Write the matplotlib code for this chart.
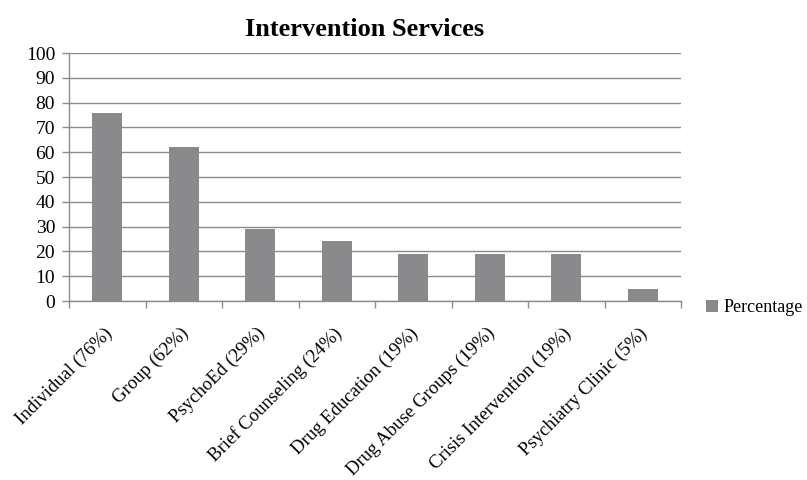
import numpy as np
import matplotlib.pyplot as plt

categories = ["Individual (76%)", "Group (62%)", "PsychoEd (29%)",
              "Brief Counseling (24%)", "Drug Education (19%)",
              "Drug Abuse Groups (19%)", "Crisis Intervention (19%)",
              "Psychiatry Clinic (5%)"]
values = [76, 62, 29, 24, 19, 19, 19, 5]

plt.rcParams['font.family'] = ['Liberation Serif', 'DejaVu Serif']

fig = plt.figure(figsize=(8.07, 4.8), dpi=100)
ax = fig.add_axes([69/807, 1 - 301/480, (681 - 69)/807, (301 - 53)/480])

x = np.arange(len(categories))
bars = ax.bar(x, values, width=0.39, color="#8a8a8c", label="Percentage", zorder=3)

ax.set_xlim(-0.5, len(categories) - 0.5)
ax.set_ylim(0, 100)
ax.set_yticks(np.arange(0, 101, 10))
ax.yaxis.grid(True, color="#8c8c8c", linewidth=1.0, zorder=0)
ax.tick_params(axis='y', labelsize=14, length=5, color="#8c8c8c", width=1, pad=5)

# ticks sit on category boundaries, labels at category centres
ax.set_xticks(np.arange(-0.5, len(categories)), minor=False)
ax.set_xticklabels([])
ax.set_xticks(x - 0.05, minor=True)
ax.set_xticklabels(categories, minor=True, rotation=45, ha='right',
                   rotation_mode='anchor', fontsize=13.5)
ax.tick_params(axis='x', which='major', length=5, color="#8c8c8c", width=1)
ax.tick_params(axis='x', which='minor', length=0, pad=17)

for s in ['top', 'right']:
    ax.spines[s].set_visible(False)
for s in ['left', 'bottom']:
    ax.spines[s].set_color("#8c8c8c")
    ax.spines[s].set_linewidth(1.0)

fig.text(365/807, 1 - 29/480, "Intervention Services", ha='center', va='center',
         fontsize=19, fontweight='bold')

fig.legend(handles=[bars], labels=["Percentage"], loc='center left',
           bbox_to_anchor=(690/807, 1 - 308/480), frameon=False, fontsize=13,
           handlelength=0.65, handleheight=0.65, handletextpad=0.3)

fig.savefig("out.png", dpi=100)
